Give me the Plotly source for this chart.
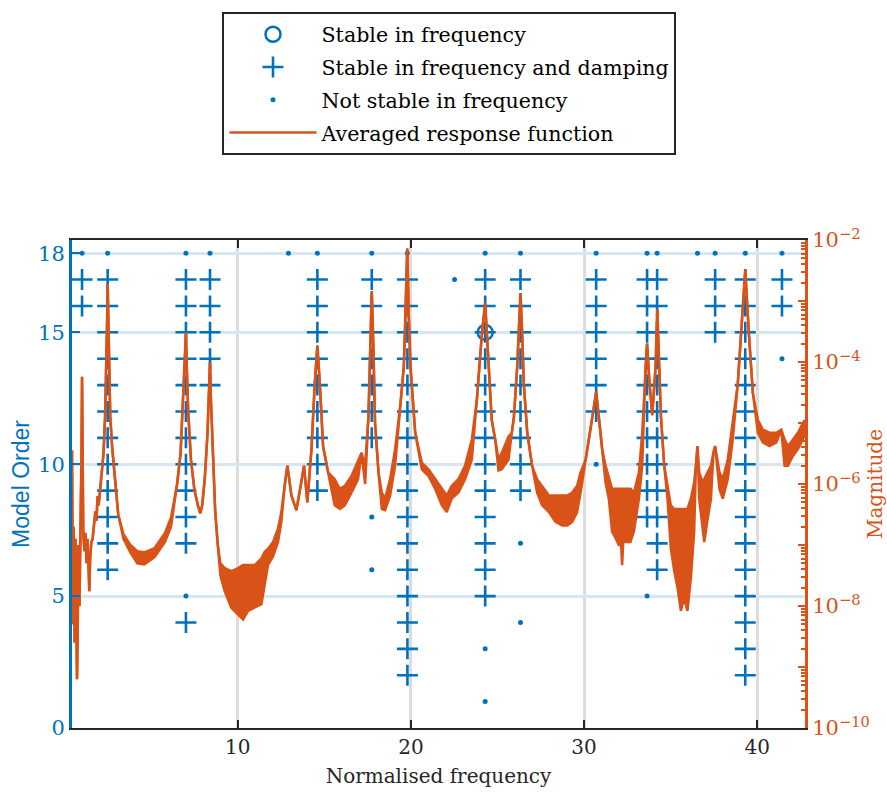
import plotly.graph_objects as go

BLUE = "#0072BD"
ORANGE = "#D95319"
INK = "#262626"
SERIF = "DejaVu Serif"

# ---- stabilisation diagram: poles found at each model order ----
# poles stable in frequency only
STABLE_F_FREQ = [24.29]
STABLE_F_ORDER = [15]

# poles stable in frequency and damping, grouped by column (frequency)
STABLE_FD_COLUMNS = [1.01, 2.49, 7.01, 8.40, 14.60, 17.74, 19.80, 24.29,
                     26.33, 30.70, 33.64, 34.22, 37.57, 39.31, 41.43]
STABLE_FD_ORDERS = [
    [16, 17],
    [6, 7, 8, 9, 10, 11, 12, 13, 14, 15, 16, 17],
    [4, 7, 8, 9, 10, 11, 12, 13, 14, 15, 16, 17],
    [13, 14, 15, 16, 17],
    [9, 10, 11, 12, 13, 14, 15, 16, 17],
    [11, 12, 13, 14, 15, 16, 17],
    [2, 3, 4, 5, 6, 7, 8, 9, 10, 11, 12, 13, 14, 15, 16, 17],
    [5, 6, 7, 8, 9, 10, 11, 12, 13, 14, 15, 16, 17],
    [9, 10, 11, 12, 13, 14, 15, 16, 17],
    [12, 13, 14, 15, 16, 17],
    [8, 9, 10, 11, 12, 13, 14, 15, 16, 17],
    [6, 7, 8, 9, 10, 11, 12, 13, 14, 15, 16, 17],
    [15, 16, 17],
    [2, 3, 4, 5, 6, 7, 8, 9, 10, 11, 12, 13, 14, 15, 16, 17],
    [16, 17],
]

# poles not stable in frequency
UNSTABLE_FREQ = [1.01, 2.49, 7.01, 8.40, 12.93, 14.60, 17.74, 19.80, 24.29,
                 26.33, 30.70, 33.64, 34.22, 36.55, 37.57, 39.31, 41.43,
                 22.52, 7.01, 17.74, 17.74, 24.29, 24.29, 26.33, 26.33,
                 30.70, 33.64, 41.43]
UNSTABLE_ORDER = [18, 18, 18, 18, 18, 18, 18, 18, 18,
                  18, 18, 18, 18, 18, 18, 18, 18,
                  17, 5, 8, 6, 3, 1, 7, 4,
                  10, 5, 14]

# ---- averaged response function: upper / lower envelope of the trace ----
FRF_FREQ = [
    0.43, 0.46, 0.49, 0.53, 0.58, 0.63, 0.68, 0.72, 0.76, 0.80,
    0.86, 0.93, 0.98, 1.01, 1.04, 1.08, 1.15, 1.20, 1.27, 1.32,
    1.38, 1.43, 1.48, 1.55, 1.62, 1.70, 1.78, 1.85, 1.90, 1.97,
    2.05, 2.15, 2.25, 2.34, 2.41, 2.46, 2.49, 2.52, 2.57, 2.64,
    2.75, 2.90, 3.10, 3.40, 3.80, 4.20, 4.60, 5.20, 5.80, 6.15,
    6.50, 6.70, 6.84, 6.94, 7.01, 7.05, 7.14, 7.30, 7.50, 7.70,
    7.84, 7.95, 8.10, 8.25, 8.35, 8.40, 8.45, 8.55, 8.70, 8.85,
    9.00, 9.25, 9.63, 10.02, 10.31, 10.60, 10.98, 11.37, 11.56, 11.75,
    12.04, 12.33, 12.52, 12.71, 12.87, 13.10, 13.39, 13.64, 13.83, 14.02,
    14.26, 14.45, 14.60, 14.74, 14.93, 15.22, 15.60, 15.90, 16.18, 16.57,
    16.95, 17.15, 17.36, 17.55, 17.65, 17.74, 17.84, 17.93, 18.13, 18.32,
    18.51, 18.80, 19.09, 19.38, 19.59, 19.69, 19.79, 19.88, 19.98, 20.25,
    20.63, 21.02, 21.40, 21.79, 22.07, 22.36, 22.75, 23.13, 23.52, 23.81,
    24.10, 24.29, 24.48, 24.67, 24.87, 25.06, 25.25, 25.64, 25.83, 25.95,
    26.14, 26.24, 26.33, 26.43, 26.52, 26.72, 27.00, 27.29, 27.58, 27.97,
    28.35, 28.74, 29.03, 29.32, 29.60, 29.80, 30.09, 30.37, 30.57, 30.70,
    30.85, 31.05, 31.24, 31.43, 31.62, 31.82, 32.01, 32.14, 32.20, 32.26,
    32.68, 32.88, 33.17, 33.36, 33.55, 33.64, 33.78, 33.94, 34.13, 34.23,
    34.34, 34.44, 34.63, 34.82, 35.01, 35.21, 35.40, 35.59, 35.78, 35.97,
    36.17, 36.36, 36.46, 36.55, 36.65, 36.85, 36.94, 37.14, 37.33, 37.47,
    37.57, 37.82, 38.01, 38.30, 38.59, 38.88, 39.13, 39.31, 39.52, 39.75,
    40.04, 40.33, 40.71, 41.10, 41.39, 41.58, 41.78, 42.06, 42.35, 42.64, 42.76,
]
FRF_UPPER = [
    3.55e-6, 3.16e-7, 5.01e-9, 2.0e-7, 2.51e-9, 1.26e-7, 1.58e-9, 6.31e-10, 3.98e-9, 1.0e-7,
    1.0e-8, 1.58e-7, 3.16e-6, 5.75e-5, 2.51e-6, 1.58e-7, 7.94e-8, 1.58e-7, 5.01e-8, 1.26e-7,
    5.01e-8, 1.74e-8, 6.31e-8, 1.12e-7, 1.26e-7, 2.0e-7, 3.55e-7, 2.51e-7, 6.31e-7, 4.47e-7,
    7.94e-7, 1.41e-6, 3.16e-6, 1.26e-5, 6.31e-5, 5.01e-4, 1.86e-3, 5.01e-4, 6.31e-5, 1.26e-5,
    3.98e-6, 1.26e-6, 3.16e-7, 1.51e-7, 1.0e-7, 7.94e-8, 7.59e-8, 8.91e-8, 1.58e-7, 2.82e-7,
    1.0e-6, 3.16e-6, 2.0e-5, 1.0e-4, 3.02e-4, 1.0e-4, 1.58e-5, 2.51e-6, 7.94e-7, 4.47e-7,
    3.31e-7, 4.47e-7, 1.26e-6, 6.31e-6, 3.16e-5, 1.0e-4, 2.51e-5, 3.98e-6, 3.55e-7, 1.0e-7,
    5.01e-8, 4.17e-8, 3.72e-8, 4.17e-8, 4.68e-8, 4.68e-8, 4.68e-8, 6.03e-8, 7.76e-8, 8.71e-8,
    1.12e-7, 1.86e-7, 3.47e-7, 9.33e-7, 2.0e-6, 6.46e-7, 3.72e-7, 9.33e-7, 2.0e-6, 5.01e-7,
    3.72e-6, 4.47e-5, 1.86e-4, 4.47e-5, 4.17e-6, 1.55e-6, 1.20e-6, 8.32e-7, 9.33e-7, 1.35e-6,
    2.51e-6, 3.24e-6, 2.0e-6, 1.29e-5, 1.55e-4, 1.45e-3, 1.55e-4, 1.0e-5, 1.55e-6, 7.24e-7,
    5.75e-7, 1.20e-6, 3.72e-6, 1.86e-5, 8.32e-5, 5.37e-4, 7.24e-3, 5.37e-4, 8.32e-5, 6.92e-6,
    2.24e-6, 1.74e-6, 1.20e-6, 8.32e-7, 6.46e-7, 9.33e-7, 1.20e-6, 2.0e-6, 5.37e-6, 2.40e-5,
    2.88e-4, 9.33e-4, 8.32e-5, 1.12e-5, 5.37e-6, 2.51e-6, 3.24e-6, 6.03e-6, 6.92e-6, 1.26e-5,
    8.32e-5, 3.72e-4, 1.35e-3, 2.88e-4, 4.47e-5, 6.92e-6, 2.0e-6, 1.20e-6, 9.33e-7, 6.46e-7,
    6.46e-7, 6.46e-7, 6.46e-7, 7.24e-7, 9.33e-7, 1.55e-6, 2.51e-6, 7.76e-6, 1.86e-5, 3.24e-5,
    1.29e-5, 3.72e-6, 2.0e-6, 1.35e-6, 8.32e-7, 8.32e-7, 8.32e-7, 8.32e-7, 8.32e-7, 8.32e-7,
    8.32e-7, 7.24e-7, 1.55e-6, 6.92e-6, 8.32e-5, 2.0e-4, 4.47e-5, 1.35e-5, 8.32e-5, 7.24e-4,
    8.32e-5, 1.29e-5, 2.0e-6, 9.33e-7, 4.47e-7, 3.89e-7, 3.89e-7, 3.89e-7, 3.89e-7, 3.89e-7,
    5.75e-7, 1.07e-6, 2.0e-6, 4.17e-6, 1.55e-6, 1.07e-6, 1.20e-6, 1.55e-6, 2.0e-6, 3.24e-6,
    4.17e-6, 1.55e-6, 1.20e-6, 2.51e-6, 1.12e-5, 4.47e-5, 5.37e-4, 3.24e-3, 2.88e-4, 3.09e-5,
    1.12e-5, 7.76e-6, 6.92e-6, 6.92e-6, 7.76e-6, 5.37e-6, 4.17e-6, 5.37e-6, 6.92e-6, 1.0e-5, 1.12e-5,
]
FRF_LOWER = [
    3.55e-6, 3.16e-7, 5.01e-9, 2.0e-7, 2.51e-9, 1.26e-7, 1.58e-9, 6.31e-10, 3.98e-9, 1.0e-7,
    1.0e-8, 1.58e-7, 3.16e-6, 5.75e-5, 2.51e-6, 1.58e-7, 7.94e-8, 1.58e-7, 5.01e-8, 1.26e-7,
    5.01e-8, 1.74e-8, 6.31e-8, 1.12e-7, 1.26e-7, 2.0e-7, 3.55e-7, 2.51e-7, 6.31e-7, 4.47e-7,
    7.94e-7, 1.41e-6, 3.16e-6, 1.26e-5, 6.31e-5, 5.01e-4, 1.86e-3, 5.01e-4, 6.31e-5, 1.26e-5,
    3.98e-6, 1.26e-6, 3.16e-7, 1.26e-7, 7.59e-8, 5.01e-8, 4.79e-8, 6.31e-8, 1.12e-7, 2.0e-7,
    1.0e-6, 3.16e-6, 2.0e-5, 1.0e-4, 3.02e-4, 1.0e-4, 1.58e-5, 2.51e-6, 7.94e-7, 4.47e-7,
    3.31e-7, 4.47e-7, 1.26e-6, 6.31e-6, 3.16e-5, 1.0e-4, 2.51e-5, 3.98e-6, 3.55e-7, 1.0e-7,
    3.16e-8, 1.74e-8, 9.33e-9, 7.24e-9, 6.03e-9, 8.32e-9, 9.33e-9, 1.07e-8, 2.24e-8, 4.68e-8,
    6.46e-8, 1.12e-7, 2.40e-7, 9.33e-7, 2.0e-6, 6.46e-7, 3.72e-7, 9.33e-7, 2.0e-6, 5.01e-7,
    3.72e-6, 4.47e-5, 1.86e-4, 4.47e-5, 4.17e-6, 1.55e-6, 4.47e-7, 3.89e-7, 4.47e-7, 7.24e-7,
    1.20e-6, 3.24e-6, 1.0e-6, 1.29e-5, 1.55e-4, 1.45e-3, 1.55e-4, 1.0e-5, 1.55e-6, 3.89e-7,
    3.72e-7, 6.46e-7, 2.0e-6, 1.86e-5, 8.32e-5, 5.37e-4, 7.24e-3, 5.37e-4, 8.32e-5, 6.92e-6,
    1.74e-6, 1.35e-6, 8.32e-7, 4.47e-7, 3.47e-7, 5.75e-7, 7.24e-7, 1.20e-6, 2.51e-6, 2.40e-5,
    2.88e-4, 9.33e-4, 8.32e-5, 1.12e-5, 5.37e-6, 1.66e-6, 1.74e-6, 2.51e-6, 6.92e-6, 1.26e-5,
    8.32e-5, 3.72e-4, 1.35e-3, 2.88e-4, 4.47e-5, 6.92e-6, 2.0e-6, 7.24e-7, 4.47e-7, 3.47e-7,
    2.40e-7, 2.09e-7, 2.09e-7, 2.40e-7, 3.47e-7, 7.24e-7, 2.51e-6, 7.76e-6, 1.86e-5, 3.24e-5,
    1.29e-5, 3.72e-6, 1.07e-6, 5.75e-7, 1.66e-7, 1.29e-7, 1.0e-7, 1.0e-7, 4.68e-8, 1.12e-7,
    1.12e-7, 1.66e-7, 5.75e-7, 2.0e-6, 8.32e-5, 2.0e-4, 4.47e-5, 1.35e-5, 8.32e-5, 7.24e-4,
    8.32e-5, 1.29e-5, 2.0e-6, 5.75e-7, 8.91e-8, 3.72e-8, 2.0e-8, 8.32e-9, 1.35e-8, 8.32e-9,
    2.88e-8, 1.66e-7, 2.0e-6, 4.17e-6, 5.75e-7, 2.09e-7, 1.12e-7, 2.69e-7, 5.75e-7, 3.24e-6,
    4.17e-6, 8.32e-7, 5.75e-7, 1.20e-6, 5.37e-6, 4.47e-5, 5.37e-4, 3.24e-3, 2.88e-4, 3.09e-5,
    6.92e-6, 4.79e-6, 4.17e-6, 4.79e-6, 7.76e-6, 2.0e-6, 2.0e-6, 2.88e-6, 3.72e-6, 5.37e-6, 7.94e-6,
]

ORDER_TICKS = [0, 5, 10, 15, 18]
FREQ_TICKS = [10, 20, 30, 40]
MAG_DECADES = [-10, -9, -8, -7, -6, -5, -4, -3, -2]

# flatten the per-column stable poles
fd_freq, fd_order = [], []
for f, orders in zip(STABLE_FD_COLUMNS, STABLE_FD_ORDERS):
    fd_freq += [f] * len(orders)
    fd_order += orders

fig = go.Figure()

fig.add_trace(go.Scatter(
    x=STABLE_F_FREQ, y=STABLE_F_ORDER, mode="markers", name="Stable in frequency",
    legendgroup="a",
    marker=dict(symbol="circle-open", size=15, color=BLUE, line=dict(width=2.5, color=BLUE)),
))
fig.add_trace(go.Scatter(
    x=fd_freq, y=fd_order, mode="markers", name="Stable in frequency and damping",
    legendgroup="b",
    marker=dict(symbol="cross-thin", size=15, color=BLUE, line=dict(width=2.6, color=BLUE)),
))
fig.add_trace(go.Scatter(
    x=UNSTABLE_FREQ, y=UNSTABLE_ORDER, mode="markers", name="Not stable in frequency",
    legendgroup="c",
    marker=dict(symbol="circle", size=5, color=BLUE),
))
fig.add_trace(go.Scatter(
    x=FRF_FREQ, y=FRF_UPPER, yaxis="y2", mode="lines", name="Averaged response function",
    legendgroup="d",
    line=dict(color=ORANGE, width=2.5),
))
fig.add_trace(go.Scatter(
    x=FRF_FREQ, y=FRF_LOWER, yaxis="y2", mode="lines", showlegend=False,
    legendgroup="d", fill="tonexty", fillcolor=ORANGE,
    line=dict(color=ORANGE, width=2.5),
))

mag_ticktext = [
    "10<sup>−%d</sup>" % (-d) if d % 2 == 0 else "" for d in MAG_DECADES
]
minor_vals = [m * 10.0 ** d for d in MAG_DECADES[:-1] for m in range(2, 10)]

fig.update_layout(
    width=887, height=794,
    margin=dict(l=72, r=82, t=235, b=66),
    paper_bgcolor="white", plot_bgcolor="white",
    showlegend=True,
    legend=dict(
        x=0.515, xanchor="center", y=1.4665, yanchor="top",
        bgcolor="white", bordercolor=INK, borderwidth=2,
        font=dict(family=SERIF, size=20.6, color="black"),
        traceorder="grouped", tracegroupgap=3, itemwidth=87,
    ),
    xaxis=dict(
        range=[0.43, 42.76], tickmode="array", tickvals=FREQ_TICKS,
        ticks="inside", ticklen=8, tickwidth=2, tickcolor=INK,
        showline=True, linecolor=INK, linewidth=2, mirror="ticks",
        showgrid=True, gridcolor="#dcdcdc", gridwidth=2.5, zeroline=False,
        tickfont=dict(family=SERIF, size=20, color=INK),
        title=dict(text="Normalised frequency", standoff=11,
                   font=dict(family=SERIF, size=20, color=INK)),
        automargin=False,
    ),
    yaxis=dict(
        range=[0, 18.5], tickmode="array", tickvals=ORDER_TICKS,
        ticks="inside", ticklen=8, tickwidth=2, tickcolor=BLUE,
        showline=True, linecolor=BLUE, linewidth=3,
        showgrid=True, gridcolor="#d6e6f3", gridwidth=2.5, zeroline=False,
        tickfont=dict(family=SERIF, size=21, color=BLUE),
        title=dict(text="Model Order", standoff=3,
                   font=dict(family="Liberation Sans", size=23, color=BLUE)),
        automargin=False,
    ),
    yaxis2=dict(
        type="log", range=[-10, -2], overlaying="y", side="right",
        tickmode="array", tickvals=[10.0 ** d for d in MAG_DECADES], ticktext=mag_ticktext,
        ticks="inside", ticklen=7, tickwidth=2, tickcolor=ORANGE,
        minor=dict(tickmode="array", tickvals=minor_vals, ticks="inside",
                   ticklen=4, tickwidth=1.5, tickcolor=ORANGE, showgrid=False),
        showline=True, linecolor=ORANGE, linewidth=3,
        showgrid=False, zeroline=False,
        tickfont=dict(family=SERIF, size=21, color=ORANGE),
        title=dict(text="Magnitude", standoff=10,
                   font=dict(family=SERIF, size=20, color=ORANGE)),
        automargin=False,
    ),
)

fig.write_html("out.html")
